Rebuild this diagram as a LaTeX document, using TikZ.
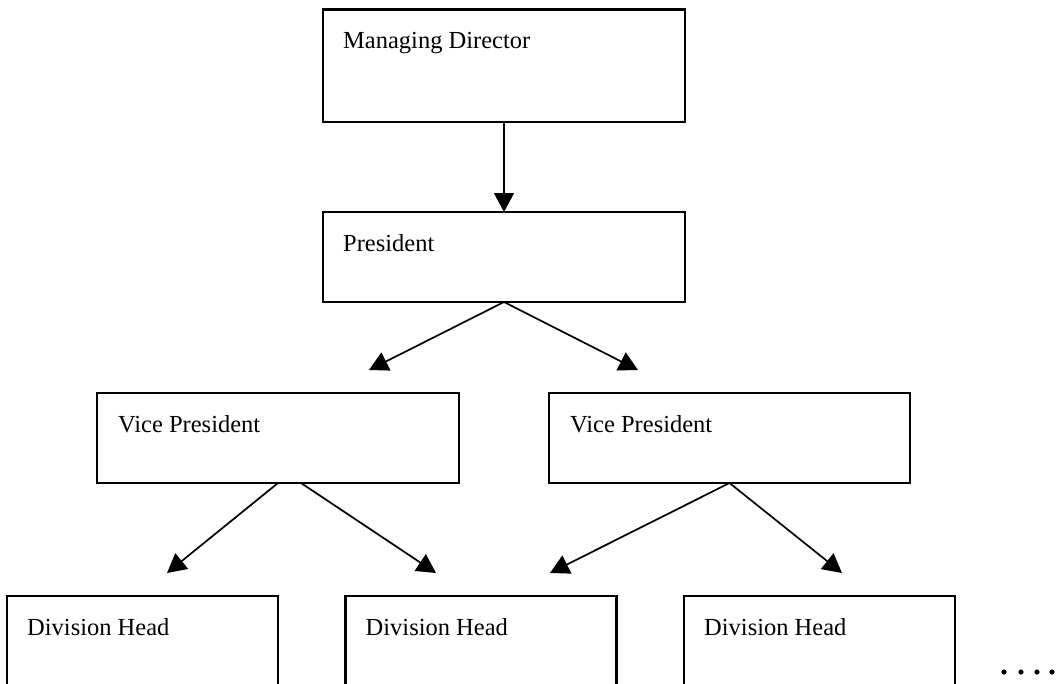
\documentclass[tikz,border=0pt]{standalone}
\usepackage{fontspec}
\setmainfont{Liberation Serif}
\usetikzlibrary{arrows.meta,calc}
\begin{document}
\begin{tikzpicture}[x=1pt,y=-1pt,
  box/.style={draw=black,line width=2.2pt,rectangle,inner sep=0pt,outer sep=0pt,fill=none},
  lbl/.style={anchor=base west,inner sep=0pt,font=\fontsize{24.5}{29}\selectfont},
  arr/.style={line width=1.7pt,-{Triangle[length=19pt,width=20pt]}}]
\useasboundingbox (0,0) rectangle (1063,683);
\clip (0,0) rectangle (1063,683);
\fill[white] (0,0) rectangle (1063,683);
% boxes
\node[box,minimum width=362pt,minimum height=112.5pt] (md) at (504,65.75) {};
\node[box,minimum width=362pt,minimum height=90pt] (pres) at (504,257) {};
\node[box,minimum width=362pt,minimum height=90pt] (vpl) at (278,438) {};
\node[box,minimum width=361pt,minimum height=90pt] (vpr) at (729.5,438) {};
\node[box,minimum width=271pt,minimum height=128pt] (dh1) at (142.5,660) {};
\node[box,minimum width=271pt,minimum height=128pt] (dh2) at (481,660) {};
\node[box,minimum width=271pt,minimum height=128pt] (dh3) at (819.5,660) {};
% labels
\node[lbl] (mdt) at ($(md.north west)+(20,39)$) {Managing Director};
\node[lbl] (prest) at ($(pres.north west)+(20,39)$) {President};
\node[lbl] (vplt) at ($(vpl.north west)+(21,39)$) {Vice President};
\node[lbl] (vprt) at ($(vpr.north west)+(21,39)$) {Vice President};
\node[lbl] (dh1t) at ($(dh1.north west)+(20,39)$) {Division Head};
\node[lbl] (dh2t) at ($(dh2.north west)+(20,39)$) {Division Head};
\node[lbl] (dh3t) at ($(dh3.north west)+(20,39)$) {Division Head};
% arrow end points
\coordinate (t1) at (369,370);
\coordinate (t2) at (638,370);
\coordinate (t3) at (167,573);
\coordinate (t4) at (436,573);
\coordinate (t5) at (550,573);
\coordinate (t6) at (842,573);
\coordinate (vplb) at ($(vpl.south)+(23,0)$);
% connectors
\draw[arr] (md.south) -- (pres.north);
\draw[arr] (pres.south) -- (t1);
\draw[arr] (pres.south) -- (t2);
\draw[arr] (vpl.south) -- (t3);
\draw[arr] (vplb) -- (t4);
\draw[arr] (vpr.south) -- (t5);
\draw[arr] (vpr.south) -- (t6);
% continuation dots
\foreach \dx in {1004,1021,1037,1052,1066}
  \fill[black] (\dx,672) circle (2.6pt);
\end{tikzpicture}
\end{document}
